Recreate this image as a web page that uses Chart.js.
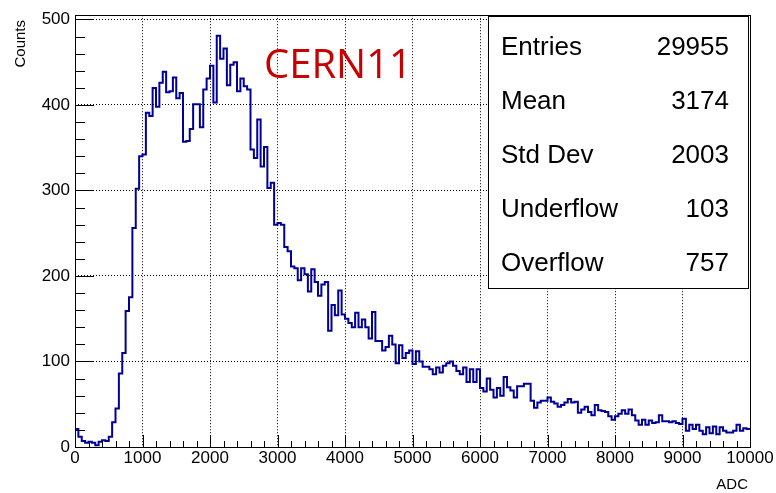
<!DOCTYPE html>
<html>
<head>
<meta charset="utf-8">
<script src="https://cdn.jsdelivr.net/npm/chart.js@4.4.0/dist/chart.umd.min.js"></script>
<style>
  body { margin: 0; background: #fff; }
</style>
</head>
<body>
<canvas id="hist" width="776" height="493"></canvas>
<script>
// histogram: 200 bins of 50 ADC from 0 to 10000
const binWidth = 50
const xMin = 0
const xMax = 10000
const counts = [
  21, 12, 7, 5, 6, 5, 2, 6, 8, 7,
  12, 29, 45, 86, 110, 159, 175, 256, 302, 340,
  342, 391, 387, 420, 398, 426, 439, 415, 416, 432,
  408, 414, 357, 358, 372, 401, 401, 374, 418, 431,
  446, 403, 481, 454, 466, 423, 447, 450, 416, 431,
  422, 418, 348, 338, 383, 328, 351, 303, 309, 260,
  262, 260, 234, 229, 211, 209, 195, 209, 202, 182,
  208, 193, 177, 190, 193, 136, 166, 154, 183, 155,
  150, 145, 140, 157, 140, 149, 140, 127, 158, 124,
  124, 113, 117, 130, 120, 98, 119, 104, 110, 113,
  97, 112, 100, 94, 94, 91, 85, 93, 87, 95,
  98, 100, 95, 89, 85, 93, 76, 91, 76, 91,
  69, 65, 80, 67, 58, 69, 60, 82, 70, 66,
  58, 71, 71, 74, 74, 54, 46, 52, 54, 54,
  58, 53, 51, 47, 49, 52, 56, 52, 53, 40,
  44, 47, 41, 37, 49, 43, 42, 41, 36, 32,
  36, 39, 43, 39, 44, 37, 31, 26, 32, 26,
  31, 28, 29, 37, 30, 30, 29, 30, 28, 27,
  33, 19, 26, 21, 26, 19, 15, 23, 16, 24,
  15, 23, 19, 17, 17, 19, 26, 19, 22, 21
]
const xTicks = [0, 1000, 2000, 3000, 4000, 5000, 6000, 7000, 8000, 9000, 10000]
const yTicks = [0, 100, 200, 300, 400, 500]
const yMax = 505
const statNames = ['Entries', 'Mean', 'Std Dev', 'Underflow', 'Overflow']
const statValues = ['29955', '3174', '2003', '103', '757']
const label = 'CERN11'

const points = counts.map((c, i) => ({x: xMin + i * binWidth, y: c}))
points.push({x: xMax, y: counts[counts.length - 1]})

const font = 'Liberation Sans, Arial, Helvetica, sans-serif'
Chart.defaults.font.family = font
Chart.defaults.color = '#000'

// ROOT look: inner ticks, frame, stat box, texts
const rootStyle = {
  id: 'rootStyle',
  afterDatasetsDraw(chart) {
    const {ctx, chartArea: a, scales: {x, y}} = chart
    ctx.save()
    ctx.strokeStyle = '#000'
    ctx.lineWidth = 1
    ctx.beginPath()
    for (let v = 0; v <= 500; v += 20) {
      const py = Math.round(y.getPixelForValue(v)) + 0.5
      const len = v % 100 === 0 ? 19 : 10
      ctx.moveTo(a.left, py)
      ctx.lineTo(a.left + len, py)
    }
    for (let v = xMin; v <= xMax; v += 200) {
      const px = Math.round(x.getPixelForValue(v)) + 0.5
      const len = v % 1000 === 0 ? 12 : 6
      ctx.moveTo(px, a.bottom)
      ctx.lineTo(px, a.bottom - len)
    }
    ctx.stroke()
    ctx.strokeRect(Math.round(a.left) + 0.5, Math.round(a.top) + 0.5,
      Math.round(a.right - a.left), Math.round(a.bottom - a.top))

    // stat box
    ctx.fillStyle = '#fff'
    ctx.fillRect(488, 16, 261, 273)
    ctx.strokeRect(488.5, 16.5, 260, 272)
    ctx.fillStyle = '#000'
    ctx.font = '26px ' + font
    statNames.forEach((n, i) => {
      const by = 54.5 + i * 54
      ctx.textAlign = 'left'
      ctx.fillText(n, 501, by)
      ctx.textAlign = 'right'
      ctx.fillText(statValues[i], 729, by)
    })

    // red label
    ctx.fillStyle = 'rgb(200,0,0)'
    ctx.textAlign = 'left'
    ctx.font = '40px "Open Sans"'
    ctx.fillText(label, 264, 78)

    // axis titles
    ctx.fillStyle = '#000'
    ctx.font = '15px ' + font
    ctx.textAlign = 'right'
    ctx.fillText('ADC', 748, 489)
    ctx.translate(25, 20)
    ctx.rotate(-Math.PI / 2)
    ctx.fillText('Counts', 0, 0)
    ctx.restore()
  }
}

const config = {
  type: 'line',
  data: {
    datasets: [{
      data: points,
      stepped: 'before',
      borderColor: 'rgb(0,0,153)',
      borderWidth: 2,
      pointRadius: 0,
      fill: false
    }]
  },
  options: {
    responsive: false,
    animation: false,
    layout: {padding: {top: 11, right: 26, bottom: 0, left: 0}},
    plugins: {legend: {display: false}, tooltip: {enabled: false}},
    scales: {
      x: {
        type: 'linear',
        min: xMin,
        max: xMax,
        afterBuildTicks: s => { s.ticks = xTicks.map(v => ({value: v})) },
        afterFit: s => { s.height = 46 },
        ticks: {autoSkip: false, maxRotation: 0, padding: 1, font: {size: 17}, callback: v => String(v)},
        grid: {color: '#000', lineWidth: 1, drawTicks: false},
        border: {display: false, dash: [1, 2]}
      },
      y: {
        min: 0,
        max: yMax,
        afterBuildTicks: s => { s.ticks = yTicks.map(v => ({value: v})) },
        afterFit: s => { s.width = 75 },
        ticks: {padding: 5, font: {size: 17}, callback: v => String(v)},
        grid: {color: '#000', lineWidth: 1, drawTicks: false},
        border: {display: false, dash: [1, 2]}
      }
    }
  },
  plugins: [rootStyle]
}

let chart = new Chart(document.querySelector('#hist'), config)
</script>
</body>
</html>
